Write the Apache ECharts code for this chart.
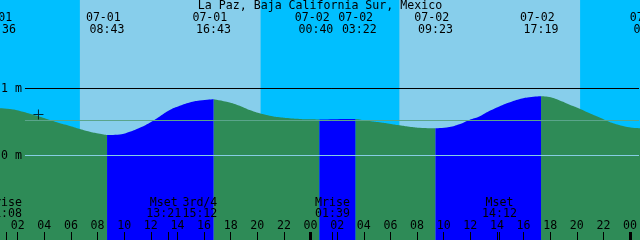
<!DOCTYPE html>
<html><head><meta charset="utf-8">
<script src="https://cdn.jsdelivr.net/npm/echarts@6/dist/echarts.min.js"></script>
<style>html,body{margin:0;padding:0;background:#00BFFF}#c{width:640px;height:240px}</style>
</head><body><div id="c"></div>
<script>
// ---------------- data ----------------
const stationTitle = 'La Paz, Baja California Sur, Mexico';
// tide curve readings: hours since 07-01 00:00, water level in metres
const hours = [0.6, 1.425, 2.175, 2.925, 3.675, 4.425, 5.175, 5.925, 6.675, 7.425, 8.175, 8.717,
  9.675, 10.425, 11.175, 11.925, 12.675, 13.425, 14.175, 14.925, 15.675, 16.717,
  17.925, 18.675, 19.425, 20.175, 20.925, 21.675, 22.425, 23.175, 23.925, 24.667,
  26.0, 27.367,
  28.425, 29.175, 29.925, 30.675, 31.425, 32.175, 33.383,
  34.425, 35.175, 35.925, 36.675, 37.425, 38.175, 38.925, 39.675, 40.425, 41.317,
  41.925, 42.675, 43.425, 44.175, 44.925, 45.675, 46.425, 47.175, 47.925, 48.675, 49.567];
const levels = [0.704, 0.693, 0.663, 0.622, 0.578, 0.530, 0.481, 0.441, 0.396, 0.356, 0.326, 0.307,
  0.315, 0.356, 0.415, 0.490, 0.582, 0.678, 0.742, 0.792, 0.822, 0.841,
  0.792, 0.742, 0.678, 0.629, 0.593, 0.570, 0.555, 0.545, 0.540, 0.537,
  0.541, 0.543,
  0.515, 0.496, 0.475, 0.451, 0.430, 0.415, 0.407,
  0.426, 0.466, 0.530, 0.582, 0.663, 0.733, 0.792, 0.841, 0.871, 0.886,
  0.874, 0.826, 0.763, 0.703, 0.634, 0.570, 0.504, 0.455, 0.421, 0.407, 0.400];
// tide events
const tideDates = ['07-01', '07-01', '07-01', '07-02', '07-02', '07-02', '07-02', '07-03'];
const tideTimes = ['00:36', '08:43', '16:43', '00:40', '03:22', '09:23', '17:19', '01:34'];
const tideHours = [0.6, 8.717, 16.717, 24.667, 27.367, 33.383, 41.317, 49.567];
const tideKinds = ['high', 'low', 'high', 'low', 'high', 'low', 'high', 'low'];
// sun
const sunriseHours = [6.675, 30.675];
const sunsetHours = [20.25, 44.25];
// moon events
const moonNames = ['Mrise', 'Mset', '3rd/4', 'Mrise', 'Mset'];
const moonTimes = ['01:08', '13:21', '15:12', '01:39', '14:12'];
const moonHours = [1.133, 13.35, 15.2, 25.65, 38.2];
const moonTickHours = [1.133, 13.35, 25.65, 38.2];
// axis
const hourTicks = [2, 4, 6, 8, 10, 12, 14, 16, 18, 20, 22, 24, 26, 28, 30, 32, 34, 36, 38, 40, 42, 44, 46, 48];
const midnightTicks = [24, 48];
const levelLabelValues = [1, 0];
const meanLevel = 0.522;
const markHour = 3.5625, markLevel = 0.612;

// ---------------- layout / style ----------------
const X_MIN = 0.675, X_MAX = 48.675;
const Y_MIN = -1.2612, Y_MAX = 2.3209;
const LINE_START = 2.55;
const FONT = 'DejaVu Sans Mono';
const FS = 11.6;
const tideShift = [-0.5, 0, 0, -3.5, 4, 0, 0, 0];
const DATE_DX = -3.7;
const moonShift = [-1.5, -5, 6.5, 0, 0];
const ROW_DATE = 17.5, ROW_TIME = 29.5, ROW_MOON = 202.5, ROW_MOONT = 213.5;

const floodRanges = [];
for (let i = 0; i < tideHours.length - 1; i++) {
  if (tideKinds[i] === 'low') floodRanges.push([tideHours[i], tideHours[i + 1]]);
}
function strictlyInFlood(h) { return floodRanges.some(r => h > r[0] && h < r[1]); }
function inFloodIncl(h) { return floodRanges.some(r => h >= r[0] && h <= r[1]); }
const ebbData = hours.map((h, i) => [h, strictlyInFlood(h) ? '-' : levels[i]]);
const floodData = hours.map((h, i) => [h, inFloodIncl(h) ? levels[i] : '-']);

function txt(text, x, y, align) {
  return { type: 'text', style: { text, x, y, fill: '#000', fontFamily: FONT, fontSize: FS,
    align: align || 'center', verticalAlign: 'middle' } };
}

const chart = echarts.init(document.getElementById('c'), null, { renderer: 'canvas' });
chart.setOption({
  animation: false,
  backgroundColor: '#00BFFF',
  title: { text: stationTitle, left: 'center', top: 0, padding: 0,
    textStyle: { fontFamily: FONT, fontSize: FS, fontWeight: 'normal', color: '#000', lineHeight: 12 } },
  grid: { left: 0, right: 0, top: 0, bottom: 0, containLabel: false },
  xAxis: [{
    type: 'value', min: X_MIN, max: X_MAX, z: 10, position: 'bottom',
    splitLine: { show: false }, axisLine: { show: false, onZero: false },
    axisTick: { show: true, inside: true, length: 8, customValues: hourTicks.concat(moonTickHours),
      lineStyle: { color: '#000', width: 1 } },
    axisLabel: { show: true, inside: true, margin: 8, customValues: hourTicks,
      formatter: v => String(Math.round(v) % 24).padStart(2, '0'),
      fontFamily: FONT, fontSize: FS, color: '#000' }
  }, {
    type: 'value', min: X_MIN, max: X_MAX, z: 11, position: 'bottom',
    splitLine: { show: false }, axisLine: { show: false, onZero: false }, axisLabel: { show: false },
    axisTick: { show: true, inside: true, length: 8, customValues: midnightTicks,
      lineStyle: { color: '#000', width: 3 } }
  }],
  yAxis: { type: 'value', min: Y_MIN, max: Y_MAX, show: false },
  series: [
    {
      type: 'line', name: 'ebb', data: ebbData, smooth: 0.5, showSymbol: false, connectNulls: false,
      lineStyle: { width: 0, opacity: 0 }, areaStyle: { color: '#2E8B57', opacity: 1, origin: 'start' },
      z: 2, silent: true,
      markArea: { silent: true, itemStyle: { color: '#87CEEB', opacity: 1 },
        data: sunriseHours.map((s, i) => [{ xAxis: s }, { xAxis: sunsetHours[i] }]) },
      markLine: { silent: true, symbol: 'none', label: { show: false },
        data: [
          [{ coord: [LINE_START, 1], lineStyle: { color: '#000', width: 1, type: 'solid' } }, { coord: [X_MAX, 1] }],
          [{ coord: [LINE_START, meanLevel], lineStyle: { color: '#5AA58B', width: 1, type: 'solid' } }, { coord: [X_MAX, meanLevel] }],
          [{ coord: [LINE_START, 0], lineStyle: { color: '#86CDE4', width: 1, type: 'solid' } }, { coord: [X_MAX, 0] }]
        ] }
    },
    {
      type: 'line', name: 'flood', data: floodData, smooth: 0.5, showSymbol: false, connectNulls: false,
      lineStyle: { width: 0, opacity: 0 }, areaStyle: { color: '#0000FF', opacity: 1, origin: 'start' },
      z: 2, silent: true
    },
    {
      type: 'scatter', data: [[markHour, markLevel]], z: 8, silent: true,
      symbol: 'path://M4.5,0H5.5V10H4.5ZM0,4.5H10V5.5H0Z', symbolSize: 10,
      itemStyle: { color: '#000' }
    },
    {
      type: 'custom', name: 'tideLabels', z: 20, silent: true, clip: false,
      data: tideHours.map(h => [h, 0]),
      renderItem: (params, api) => {
        const i = params.dataIndex;
        const x = api.coord([api.value(0), 0])[0] + tideShift[i];
        return { type: 'group', children: [
          txt(tideDates[i], x + DATE_DX, ROW_DATE),
          txt(tideTimes[i], x, ROW_TIME)
        ] };
      }
    },
    {
      type: 'custom', name: 'moonLabels', z: 20, silent: true, clip: false,
      data: moonHours.map(h => [h, 0]),
      renderItem: (params, api) => {
        const i = params.dataIndex;
        const x = api.coord([api.value(0), 0])[0] + moonShift[i];
        return { type: 'group', children: [
          txt(moonNames[i], x, ROW_MOON),
          txt(moonTimes[i], x, ROW_MOONT)
        ] };
      }
    },
    {
      type: 'custom', name: 'levelLabels', z: 20, silent: true, clip: false,
      data: levelLabelValues.map(v => [X_MIN, v]),
      renderItem: (params, api) => {
        const i = params.dataIndex;
        const y = api.coord([X_MIN, api.value(1)])[1];
        return txt(levelLabelValues[i] + ' m', 1, y, 'left');
      }
    }
  ]
});
</script></body></html>
